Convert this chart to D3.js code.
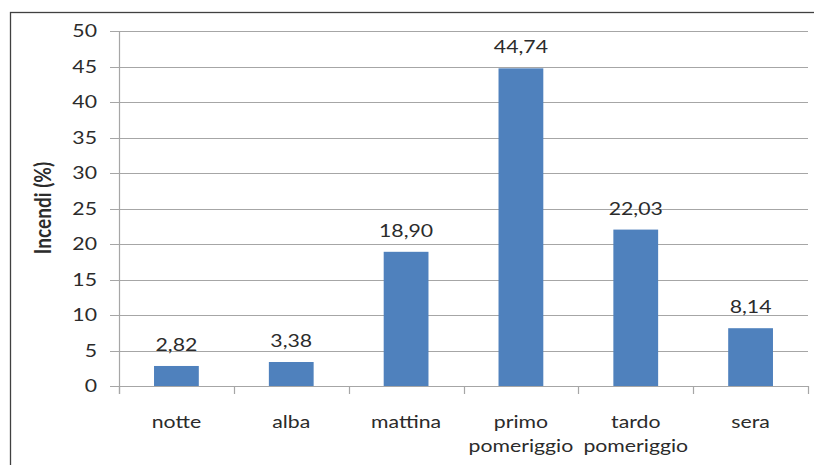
<!DOCTYPE html>
<html>
<head>
<meta charset="utf-8">
<script src="https://cdn.jsdelivr.net/npm/d3@7"></script>
<style>
  html, body { margin: 0; padding: 0; background: #fff; }
  svg { display: block; }
  text { font-family: Lato, "Open Sans", sans-serif; fill: #2b2b2b; }
</style>
</head>
<body>
<svg id="chart" width="814" height="465"></svg>
<script>
// Fire share by time of day
const categories = [["notte"], ["alba"], ["mattina"], ["primo", "pomeriggio"], ["tardo", "pomeriggio"], ["sera"]];
const values = [2.82, 3.38, 18.90, 44.74, 22.03, 8.14];
const valueLabels = ["2,82", "3,38", "18,90", "44,74", "22,03", "8,14"];
const yTicks = [0, 5, 10, 15, 20, 25, 30, 35, 40, 45, 50];
const yTitle = "Incendi (%)";

const svg = d3.select("#chart");
const plotLeft = 119, plotRight = 808, plotTop = 31, plotBottom = 386;
const stretch = 1.25;   // wide lettering
const fontSize = 17;

// outer frame
svg.append("rect")
  .attr("x", 10.5).attr("y", 12.5)
  .attr("width", 830).attr("height", 500)
  .attr("fill", "none").attr("stroke", "#404040").attr("stroke-width", 1.3);

const x = d3.scaleBand().domain(d3.range(categories.length))
  .range([plotLeft, plotRight]).paddingInner(0.61).paddingOuter(0.305);
const band = (plotRight - plotLeft) / categories.length;
const y = d3.scaleLinear().domain([0, 50]).range([plotBottom, plotTop]);

// gridlines + y ticks
svg.append("g").selectAll("line").data(yTicks).join("line")
  .attr("x1", plotLeft - 9).attr("x2", plotRight)
  .attr("y1", d => Math.round(y(d)) + 0.5).attr("y2", d => Math.round(y(d)) + 0.5)
  .attr("stroke", "#a6a6a6").attr("stroke-width", 1.2);

// y axis line
svg.append("line")
  .attr("x1", plotLeft + 0.5).attr("x2", plotLeft + 0.5)
  .attr("y1", plotTop).attr("y2", plotBottom + 8)
  .attr("stroke", "#a6a6a6").attr("stroke-width", 1.2);

// category ticks below the axis
svg.append("g").selectAll("line").data(d3.range(categories.length + 1)).join("line")
  .attr("x1", i => Math.round(plotLeft + i * band) + 0.5)
  .attr("x2", i => Math.round(plotLeft + i * band) + 0.5)
  .attr("y1", plotBottom).attr("y2", plotBottom + 8)
  .attr("stroke", "#a6a6a6").attr("stroke-width", 1.2);

// y tick labels
svg.append("g").selectAll("text").data(yTicks).join("text")
  .attr("transform", d => `translate(97, ${y(d)}) scale(${stretch}, 1)`)
  .attr("dy", "0.36em")
  .attr("text-anchor", "end")
  .attr("font-size", fontSize)
  .text(d => d);

// bars
svg.append("g").selectAll("rect").data(values).join("rect")
  .attr("x", (d, i) => x(i))
  .attr("width", x.bandwidth())
  .attr("y", d => y(d))
  .attr("height", d => y(0) - y(d))
  .attr("fill", "#4F81BD");

// value labels
svg.append("g").selectAll("text").data(values).join("text")
  .attr("transform", (d, i) => `translate(${x(i) + x.bandwidth() / 2}, ${y(d) - 15}) scale(${stretch}, 1)`)
  .attr("text-anchor", "middle")
  .attr("font-size", fontSize)
  .text((d, i) => valueLabels[i]);

// category labels
const cat = svg.append("g").selectAll("text").data(categories).join("text")
  .attr("transform", (d, i) => `translate(${x(i) + x.bandwidth() / 2}, 428) scale(${stretch}, 1)`)
  .attr("text-anchor", "middle")
  .attr("font-size", fontSize);
cat.selectAll("tspan").data(d => d).join("tspan")
  .attr("x", 0)
  .attr("dy", (d, j) => j === 0 ? 0 : 24)
  .text(d => d);

// y axis title
svg.append("text")
  .attr("transform", `translate(51, 208) rotate(-90) scale(1, ${stretch})`)
  .attr("text-anchor", "middle")
  .attr("font-size", 19)
  .attr("font-weight", "bold")
  .text(yTitle);
</script>
</body>
</html>
